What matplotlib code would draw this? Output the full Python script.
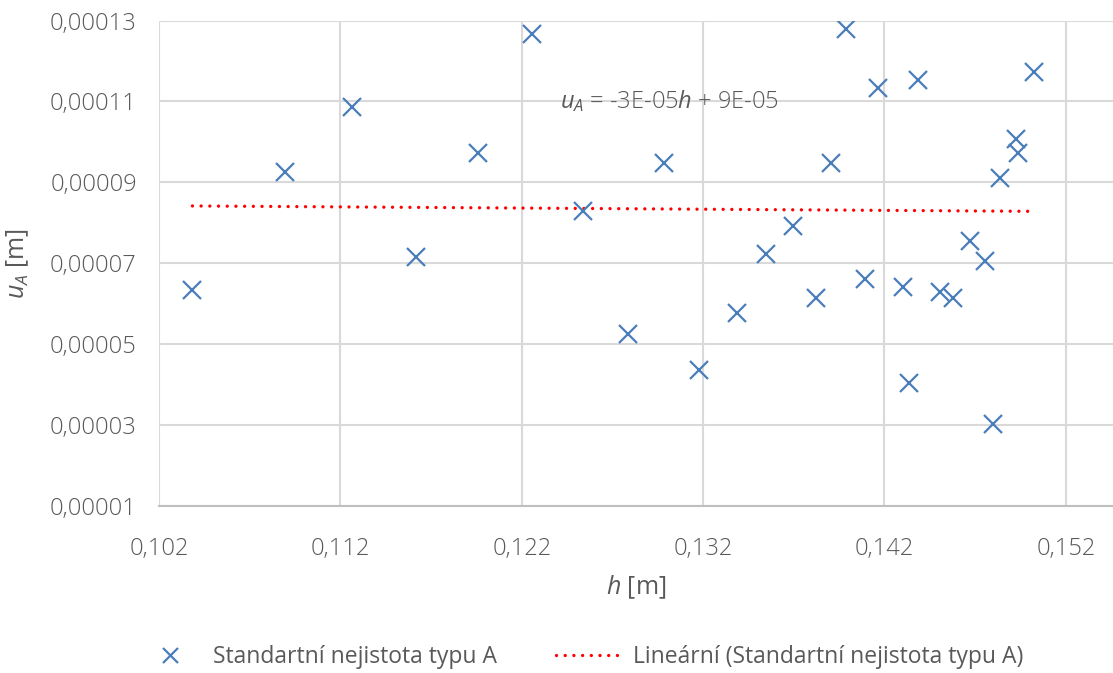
import matplotlib.pyplot as plt
import numpy as np

plt.rcParams['font.family'] = ['Open Sans', 'DejaVu Sans']
plt.rcParams['mathtext.fontset'] = 'custom'
plt.rcParams['mathtext.rm'] = 'Open Sans'
plt.rcParams['mathtext.it'] = 'Open Sans:italic'

# h [m] and standard uncertainty type A u_A [m]
h = [0.10384, 0.10897, 0.11263, 0.11618, 0.11956, 0.12257, 0.12537, 0.12787,
     0.12982, 0.13175, 0.13386, 0.13548, 0.13695, 0.13820, 0.13903, 0.13989,
     0.14092, 0.14162, 0.14300, 0.14337, 0.14386, 0.14506, 0.14578, 0.14673,
     0.14756, 0.14796, 0.14835, 0.14927, 0.14938, 0.15026]
u_a = [0.0000633, 0.0000926, 0.0001086, 0.0000715, 0.0000973, 0.0001266,
       0.0000830, 0.0000526, 0.0000948, 0.0000435, 0.0000576, 0.0000722,
       0.0000791, 0.0000613, 0.0000948, 0.0001279, 0.0000660, 0.0001134,
       0.0000642, 0.0000405, 0.0001153, 0.0000628, 0.0000615, 0.0000756,
       0.0000705, 0.0000303, 0.0000912, 0.0001007, 0.0000973, 0.0001173]

# trendline as drawn in the reference (rounded to -3E-05 h + 9E-05 in the label)
trend_slope = -2.87e-5
trend_intercept = 8.715e-5

x_ticks = [0.102, 0.112, 0.122, 0.132, 0.142, 0.152]
y_ticks = [0.00001, 0.00003, 0.00005, 0.00007, 0.00009, 0.00011, 0.00013]

series_label = 'Standartní nejistota typu A'
trend_label = 'Lineární (Standartní nejistota typu A)'
eq_text = r'$\mathit{u_A}$ = -3E-05$\mathit{h}$ + 9E-05'

text_col = '#595959'
grid_col = '#d9d9d9'

fig = plt.figure(figsize=(11.13, 6.73), dpi=100)
ax = fig.add_axes([0.1429, 0.2481, 0.8571, 0.7214])

h_arr = np.array(h)
u_arr = np.array(u_a)
sc, = ax.plot(h_arr, u_arr, linestyle='none', marker='x', markersize=13.5,
              markeredgewidth=1.6, color='#4a7ebb', label=series_label, zorder=3)

xs = np.array([h_arr.min(), h_arr.max()])
tl, = ax.plot(xs, trend_slope * xs + trend_intercept, color='#ff0000',
              linestyle=(0, (0.01, 2.6)), linewidth=2.4, dash_capstyle='round',
              label=trend_label, zorder=2)

ax.set_xlim(0.102, 0.1546)
ax.set_ylim(0.00001, 0.00013)
ax.set_xticks(x_ticks)
ax.set_yticks(y_ticks)
ax.set_xticklabels([f'{v:.3f}'.replace('.', ',') for v in x_ticks])
ax.set_yticklabels([f'{v:.5f}'.replace('.', ',') for v in y_ticks])

ax.grid(True, color=grid_col, linewidth=1.5)
ax.set_axisbelow(True)
for s in ['top', 'right', 'left']:
    ax.spines[s].set_visible(False)
ax.spines['bottom'].set_color('#bfbfbf')
ax.spines['bottom'].set_linewidth(1.5)
ax.tick_params(axis='both', length=0, labelsize=17, labelcolor=text_col)
ax.tick_params(axis='x', pad=22)
ax.tick_params(axis='y', pad=16)
for lab in ax.get_xticklabels() + ax.get_yticklabels():
    lab.set_fontweight('light')

ax.set_xlabel(r'$\mathit{h}$ [m]', fontsize=18, color=text_col, labelpad=9)
ax.set_ylabel(r'$\mathit{u_A}$ [m]', fontsize=18, color=text_col, labelpad=14)

ax.text(0.12412, 0.000110, eq_text, fontsize=17, color=text_col,
        va='center', ha='left', fontweight='light')

fig.legend(handles=[sc, tl], loc='center', bbox_to_anchor=(0.521, 0.024),
           ncol=2, frameon=False, fontsize=16.5, labelcolor=text_col,
           handlelength=3.0, handletextpad=0.35, columnspacing=2.6,
           markerscale=0.8)

fig.savefig('out.png', dpi=100)
